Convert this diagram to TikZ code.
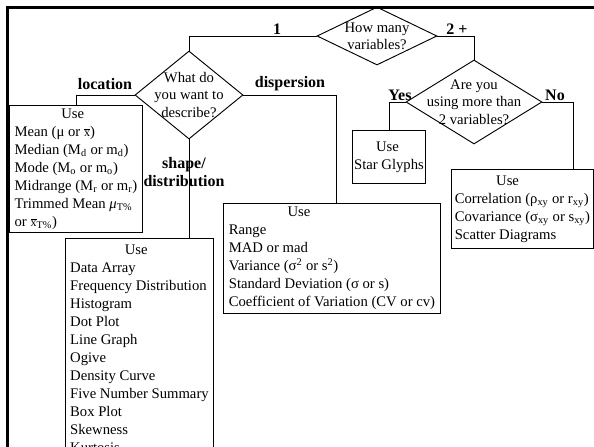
\documentclass[tikz,border=0pt]{standalone}
\usepackage{fontspec}
\setmainfont{Liberation Serif}
\usetikzlibrary{shapes.geometric}

\newcommand{\xbar}{{\small$\overline{\mathrm{x}}$}}

\begin{document}
\begin{tikzpicture}[x=0.75pt,y=-0.75pt,line width=0.7pt,
  decision/.style={diamond,draw,inner sep=0pt},
  usebox/.style={draw,align=left,anchor=north west,inner sep=0pt,
    font=\fontsize{11}{13.5}\selectfont},
  choice/.style={font=\fontsize{12}{13.5}\selectfont\bfseries,align=center},
  asktext/.style={font=\fontsize{11}{13}\selectfont,align=center}]
  \useasboundingbox (0,0) rectangle (594,447);

  % Outer frame
  \draw[line width=2.25pt] (7.5,470) -- (7.5,7.5) -- (610,7.5);

  % Questions
  \node[decision,minimum width=90pt,minimum height=43.5pt,
    label={[asktext]center:How many\\variables?}] (vars) at (377,36) {};
  \node[decision,minimum width=81pt,minimum height=66pt,
    label={[asktext]center:What do\\you want to\\describe?}] (describe) at (189,95) {};
  \node[decision,minimum width=102pt,minimum height=63pt,
    label={[asktext]center:Are you\\using more than\\2 variables?}] (more) at (474,102) {};

  % Answers
  \node[usebox,minimum width=99.75pt,minimum height=95.25pt] (location) at (9,105)
    {\hspace*{35pt}Use\\
     Mean (μ or \xbar)\\
     Median (M\textsubscript{d} or m\textsubscript{d})\\
     Mode (M\textsubscript{o} or m\textsubscript{o})\\
     Midrange (M\textsubscript{r} or m\textsubscript{r})\\
     Trimmed Mean \textit{μ}\textsubscript{T\%}\\
     or \xbar\textsubscript{T\%})};
  \node[usebox,minimum width=111pt,minimum height=165pt] (shape) at (65,238)
    {\hspace*{41pt}Use\\
     Data Array\\
     Frequency Distribution\\
     Histogram\\
     Dot Plot\\
     Line Graph\\
     Ogive\\
     Density Curve\\
     Five Number Summary\\
     Box Plot\\
     Skewness\\
     Kurtosis};
  \node[usebox,minimum width=162.75pt,minimum height=82.5pt] (dispersion) at (223,203)
    {\hspace*{44pt}Use\\
     Range\\
     MAD or mad\\
     Variance (σ\textsuperscript{2} or s\textsuperscript{2})\\
     Standard Deviation (σ or s)\\
     Coefficient of Variation (CV or cv)};
  \node[usebox,minimum width=54.75pt,minimum height=39.75pt] (star) at (352,130)
    {\hspace*{16.5pt}Use\\
     Star Glyphs};
  \node[usebox,minimum width=106.5pt,minimum height=59.25pt] (corr) at (451,169)
    {\hspace*{31pt}Use\\
     Correlation (ρ\textsubscript{xy} or r\textsubscript{xy})\\
     Covariance (σ\textsubscript{xy} or s\textsubscript{xy})\\
     Scatter Diagrams};

  % Branch labels
  \node[choice] (one) at (277,29) {1};
  \node[choice] (twoplus) at (457,29) {2 +};
  \node[choice] (loclabel) at (105,84) {location};
  \node[choice] (displabel) at (290,84) {dispersion};
  \node[choice] (shapelabel) at (184,172) {shape/\\distribution};
  \node[choice] (yes) at (400,95) {Yes};
  \node[choice] (no) at (555,95) {No};

  % Connectors
  \draw (vars.west) -| (describe.north);
  \draw (vars.east) -| (more.north);
  \draw (describe.west) -| (location.north);
  \draw (describe.east) -| (dispersion.north -| 336,0);
  \draw (describe.south) -- (describe.south |- shape.north);
  \draw (more.west) -| (star.north);
  \draw (more.east) -| (corr.north -| 573,0);
\end{tikzpicture}
\end{document}
